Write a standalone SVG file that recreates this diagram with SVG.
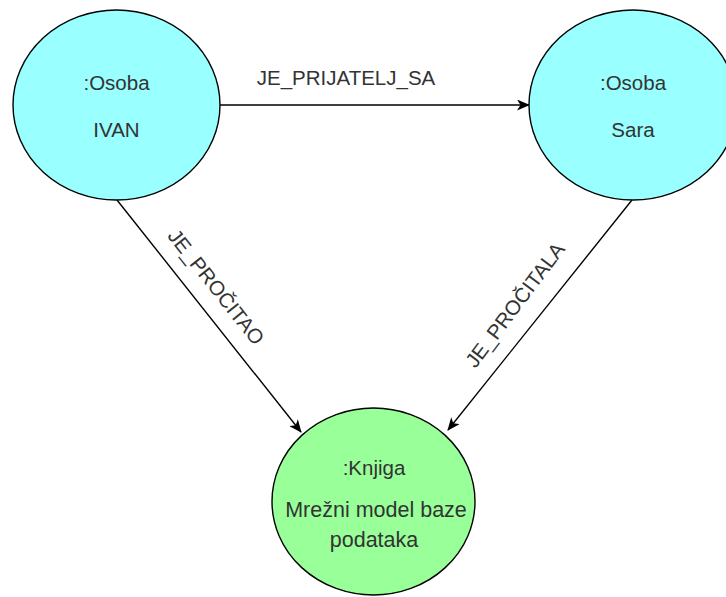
<svg xmlns="http://www.w3.org/2000/svg" width="726" height="597" viewBox="0 0 726 597">
<style>
.node{stroke:#000;stroke-width:1.4}
.osoba{fill:#99FFFF}
.knjiga{fill:#99FF99}
text{font-family:"Liberation Sans",Arial,sans-serif;font-size:20.5px;fill:#333333;text-anchor:middle}
.big{font-size:21.5px}
.edge{stroke:#000;stroke-width:1.4;fill:none;marker-end:url(#arrow)}
</style>
<defs>
<marker id="arrow" viewBox="0 0 13 11" refX="12" refY="5.5" markerWidth="13" markerHeight="11" markerUnits="userSpaceOnUse" orient="auto">
<path d="M0,0 L13,5.5 L0,11 L3.5,5.5 Z" fill="#000"/>
</marker>
</defs>
<rect width="726" height="597" fill="#fff"/>
<g id="connectors">
<line class="edge" x1="220" y1="105" x2="529" y2="105"/>
<line class="edge" x1="117" y1="200" x2="301" y2="432"/>
<line class="edge" x1="632" y1="200" x2="448" y2="430"/>
<text x="346" y="85">JE_PRIJATELJ_SA</text>
<text transform="translate(216,287) rotate(51.5)" x="0" y="7">JE_PROČITAO</text>
<text transform="translate(515,305) rotate(-53)" x="0" y="7">JE_PROČITALA</text>
</g>
<g id="ivan">
<ellipse class="node osoba" cx="116.5" cy="105" rx="103.5" ry="95"/>
<text x="116.5" y="90">:Osoba</text>
<text x="116.5" y="137">IVAN</text>
</g>
<g id="sara">
<ellipse class="node osoba" cx="633" cy="105" rx="104" ry="95"/>
<text x="633" y="90">:Osoba</text>
<text x="633" y="137">Sara</text>
</g>
<g id="knjiga">
<ellipse class="node knjiga" cx="373.5" cy="501.5" rx="101.5" ry="93.5"/>
<text x="374" y="475">:Knjiga</text>
<text class="big" x="376" y="517">Mrežni model baze</text>
<text class="big" x="374" y="547">podataka</text>
</g>
</svg>
